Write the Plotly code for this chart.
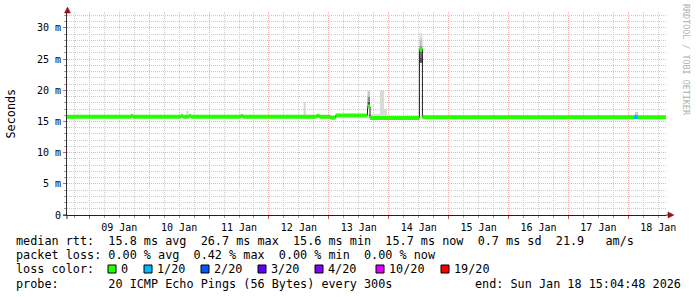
import plotly.graph_objects as go

# ---------------- data ----------------
range_start = "2026-01-08 15:04:48"
range_end = "2026-01-18 15:04:48"

# median RTT (ms) as piecewise-constant segments, with loss level index
seg_start = [
    "2026-01-08 15:04:48", "2026-01-09 16:41", "2026-01-09 17:29", "2026-01-10 12:41",
    "2026-01-10 13:29", "2026-01-10 15:53", "2026-01-10 16:41", "2026-01-11 12:41",
    "2026-01-11 13:29", "2026-01-12 19:05", "2026-01-12 20:17", "2026-01-13 00:41",
    "2026-01-13 02:41", "2026-01-13 15:29", "2026-01-13 16:29", "2026-01-14 12:17",
    "2026-01-14 13:29", "2026-01-18 02:17", "2026-01-18 03:53",
]
seg_median_ms = [
    15.75, 15.9, 15.75, 15.9,
    15.75, 15.9, 15.75, 15.9,
    15.75, 15.9, 15.75, 15.6,
    15.95, 17.4, 15.55, 26.6,
    15.67, 15.72, 15.67,
]
seg_loss = [0, 0, 0, 0, 0, 0, 0, 0, 0, 0, 0, 0, 0, 0, 0, 0, 0, 1, 0]

# smoke (ping spread) blocks: centre time, width (min), low/high (ms), shade
smoke_time = [
    "2026-01-11 09:41", "2026-01-13 14:41", "2026-01-14 02:17", "2026-01-15 09:05",
    "2026-01-15 18:00", "2026-01-16 02:30", "2026-01-17 03:30",
    "2026-01-10 15:17", "2026-01-12 14:17",
    "2026-01-13 15:59", "2026-01-13 15:59", "2026-01-13 15:59",
    "2026-01-13 21:17", "2026-01-13 22:41",
    "2026-01-14 12:53", "2026-01-14 12:53", "2026-01-14 12:53", "2026-01-14 12:53", "2026-01-14 12:53",
    "2026-01-18 03:17",
]
smoke_width_min = [
    780, 740, 1180, 96,
    72, 190, 96,
    48, 48,
    60, 60, 60,
    96, 72,
    72, 72, 72, 72, 72,
    72,
]
smoke_low_ms = [
    15.75, 15.95, 15.55, 15.67,
    15.67, 15.67, 15.67,
    15.75, 15.75,
    17.4, 18.2, 19.0,
    15.55, 15.55,
    24.4, 25.3, 26.2, 27.2, 28.2,
    15.72,
]
smoke_high_ms = [
    16.0, 16.15, 15.9, 16.05,
    16.0, 16.05, 16.0,
    16.7, 18.1,
    18.2, 19.0, 19.9,
    20.0, 17.0,
    25.3, 26.2, 27.2, 28.2, 29.2,
    16.5,
]
smoke_shade = [
    "#e4e4e4", "#dcdcdc", "#d0d0d0", "#e2cce6",
    "#e2cce6", "#e2cce6", "#e2cce6",
    "#d9d9d9", "#d6d6d6",
    "#555555", "#8a8a8a", "#c8c8c8",
    "#d9d9d9", "#d9d9d9",
    "#505050", "#707070", "#9a9a9a", "#c0c0c0", "#e0e0e0",
    "#c8c8c8",
]

loss_labels = ["0", "1/20", "2/20", "3/20", "4/20", "10/20", "19/20"]
loss_colors = ["#26ff00", "#00b8ff", "#0059ff", "#5e00ff", "#7e00ff", "#dd00ff", "#ff0000"]
loss_label_px = [122, 158, 215, 272, 329, 390, 455]

y_tick_vals = [0, 5, 10, 15, 20, 25, 30]
y_tick_text = ["0", "5 m", "10 m", "15 m", "20 m", "25 m", "30 m"]

legend_rows = [
    "median rtt:  15.8 ms avg  26.7 ms max  15.6 ms min  15.7 ms now  0.7 ms sd  21.9   am/s",
    "packet loss: 0.00 % avg  0.42 % max  0.00 % min  0.00 % now",
    "loss color:",
    "probe:       20 ICMP Echo Pings (56 Bytes) every 300s",
]
end_text = "end: Sun Jan 18 15:04:48 2026"

# ---------------- layout geometry ----------------
W, H = 697, 297
PL, PR, PT, PB = 67, 666, 12, 215
MONO = "DejaVu Sans Mono"
LEG_SIZE = 11.8


def px(x):
    return (x - PL) / (PR - PL)


def py(y):
    return (PB - y) / (PB - PT)


fig = go.Figure()

# smoke
fig.add_trace(go.Bar(
    x=smoke_time,
    base=smoke_low_ms,
    y=[h - l for h, l in zip(smoke_high_ms, smoke_low_ms)],
    width=[w * 60000 for w in smoke_width_min],
    marker=dict(color=smoke_shade, line=dict(width=0)),
    hoverinfo="skip",
))

# thin dark median line
seg_end = seg_start[1:] + [range_end]
fig.add_trace(go.Scatter(
    x=seg_start + [range_end],
    y=seg_median_ms + [seg_median_ms[-1]],
    mode="lines", line=dict(color="#202020", width=1, shape="hv"),
    hoverinfo="skip",
))

# loss coloured median bands
for lvl, col in enumerate(loss_colors):
    xs, ys = [], []
    for s, e, v, l in zip(seg_start, seg_end, seg_median_ms, seg_loss):
        if l == lvl:
            xs += [s, e, None]
            ys += [v, v, None]
    if xs:
        fig.add_trace(go.Scatter(x=xs, y=ys, mode="lines",
                                 line=dict(color=col, width=4), hoverinfo="skip"))

grid_minor = "#cccccc"
grid_major = "#f0b0b0"

fig.update_layout(
    width=W, height=H,
    margin=dict(l=PL, r=W - PR, t=PT, b=H - PB, autoexpand=False),
    paper_bgcolor="white", plot_bgcolor="white",
    showlegend=False, barmode="overlay",
    font=dict(family=MONO, size=10, color="#000000"),
    xaxis=dict(
        type="date", range=[range_start, range_end],
        tick0="2026-01-09", dtick=86400000, tickformat="%d %b", ticklabelmode="period",
        showgrid=True, gridcolor=grid_major, gridwidth=1, griddash="1px,1px",
        ticks="outside", ticklen=3, tickcolor="#d06060",
        minor=dict(tick0="2026-01-09", dtick=6 * 3600000, showgrid=True,
                   gridcolor=grid_minor, griddash="1px,1px", ticks="outside",
                   ticklen=2, tickcolor="#a0a0a0"),
        showline=True, linecolor="#202020", linewidth=1, zeroline=False,
        tickfont=dict(family=MONO, size=10, color="#000000"),
    ),
    yaxis=dict(
        range=[0, 32.56], tickmode="array", tickvals=y_tick_vals, ticktext=y_tick_text,
        showgrid=True, gridcolor=grid_major, gridwidth=1, griddash="1px,1px",
        ticks="outside", ticklen=3, tickcolor="#d06060",
        minor=dict(tickmode="linear", tick0=0, dtick=1, showgrid=True,
                   gridcolor=grid_minor, griddash="1px,1px", ticks="outside",
                   ticklen=2, tickcolor="#a0a0a0"),
        showline=True, linecolor="#303030", linewidth=1, zeroline=False,
        tickfont=dict(family=MONO, size=10, color="#000000"),
    ),
)

shapes = []
# axis extensions
shapes.append(dict(type="line", xref="paper", yref="paper", x0=px(63), x1=px(PL), y0=0, y1=0,
                   line=dict(color="#202020", width=1)))
shapes.append(dict(type="line", xref="paper", yref="paper", x0=0, x1=0, y0=py(219), y1=py(PB),
                   line=dict(color="#303030", width=1)))
shapes.append(dict(type="line", xref="paper", yref="paper", x0=1, x1=px(669), y0=0, y1=0,
                   line=dict(color="#202020", width=1)))
shapes.append(dict(type="line", xref="paper", yref="paper", x0=0, x1=0, y0=1, y1=py(10),
                   line=dict(color="#303030", width=1)))
# arrow heads
arrow = "#991111"
shapes.append(dict(type="path", xref="paper", yref="paper",
                   path=f"M {px(64.5)} {py(13)} L {px(67.5)} {py(7)} L {px(70.5)} {py(13)} Z",
                   fillcolor=arrow, line=dict(color=arrow, width=0.5)))
shapes.append(dict(type="path", xref="paper", yref="paper",
                   path=f"M {px(668)} {py(212)} L {px(674)} {py(215)} L {px(668)} {py(218)} Z",
                   fillcolor=arrow, line=dict(color=arrow, width=0.5)))
# loss colour boxes
for col, lx in zip(loss_colors, loss_label_px):
    bx = lx - 14
    shapes.append(dict(type="rect", xref="paper", yref="paper",
                       x0=px(bx), x1=px(bx + 8), y0=py(273), y1=py(265),
                       fillcolor=col, line=dict(color="#000000", width=1)))
fig.update_layout(shapes=shapes)

ann = []
row_y = [241, 255, 269, 283.5]
for txt, yy in zip(legend_rows, row_y):
    ann.append(dict(text=txt.replace(" ", "&nbsp;"), x=px(16), y=py(yy), xref="paper", yref="paper",
                    xanchor="left", yanchor="middle", showarrow=False, borderpad=0, borderwidth=0,
                    font=dict(family=MONO, size=LEG_SIZE, color="#000000")))
for lab, lx in zip(loss_labels, loss_label_px):
    ann.append(dict(text=lab, x=px(lx - 1), y=py(269), xref="paper", yref="paper",
                    xanchor="left", yanchor="middle", showarrow=False, borderpad=0, borderwidth=0,
                    font=dict(family=MONO, size=LEG_SIZE, color="#000000")))
ann.append(dict(text=end_text.replace(" ", "&nbsp;"), x=px(681), y=py(283.5), xref="paper", yref="paper",
                xanchor="right", yanchor="middle", showarrow=False, borderpad=0, borderwidth=0,
                font=dict(family=MONO, size=LEG_SIZE, color="#000000")))
ann.append(dict(text="Seconds", x=px(10.5), y=py(114), xref="paper", yref="paper", textangle=-90,
                xanchor="center", yanchor="middle", showarrow=False, borderpad=0, borderwidth=0,
                font=dict(family=MONO, size=LEG_SIZE, color="#000000")))
ann.append(dict(text="RRDTOOL / TOBI OETIKER", x=px(686.5), y=py(59.5), xref="paper", yref="paper",
                textangle=90, xanchor="center", yanchor="middle", showarrow=False,
                borderpad=0, borderwidth=0,
                font=dict(family=MONO, size=8.4, color="#b0b0b0")))
fig.update_layout(annotations=ann)

fig.write_html("out.html")
